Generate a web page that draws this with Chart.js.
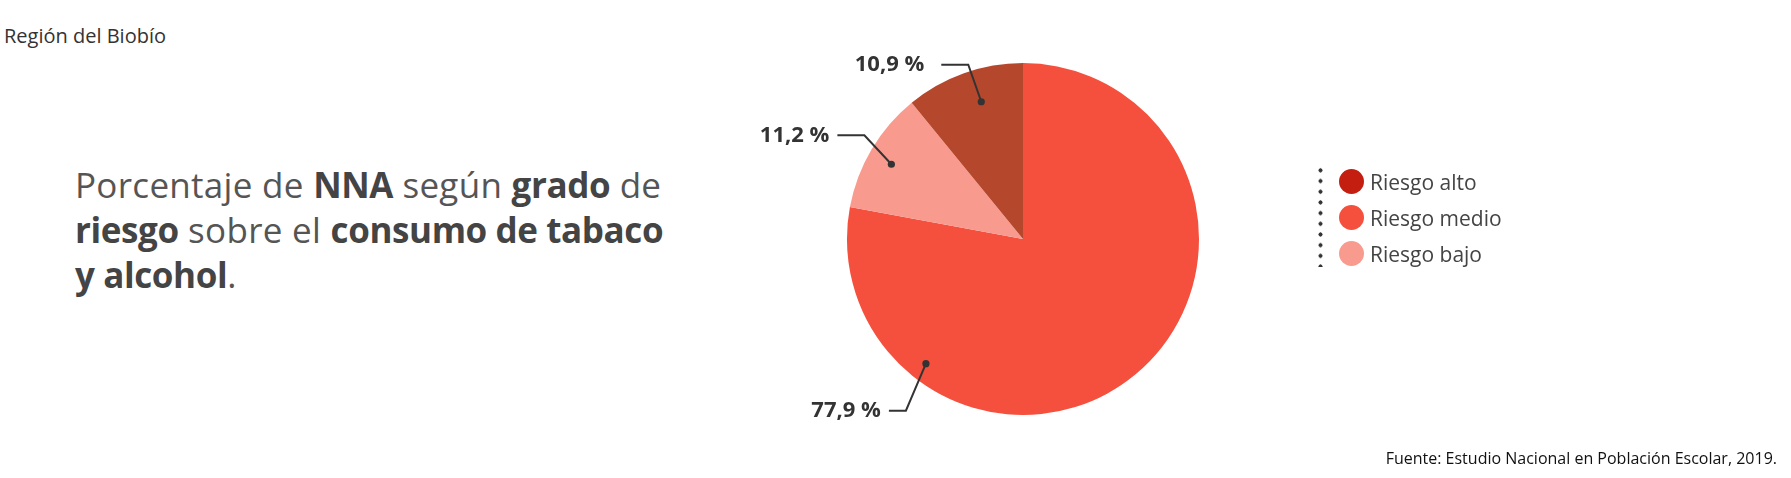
<!DOCTYPE html>
<html>
<head>
<meta charset="utf-8">
<script src="https://cdn.jsdelivr.net/npm/chart.js@4"></script>
<style>
  body { margin: 0; width: 1791px; height: 478px; background: #fff; font-family: "Open Sans", sans-serif; position: relative; overflow: hidden; }
  #region { position: absolute; left: 4px; top: 26px; font-size: 20px; line-height: 20px; color: #333; }
  #title { position: absolute; left: 75px; top: 162px; font-size: 35px; line-height: 45px; color: #555; letter-spacing: 0.3px; }
  #title b { color: #444; font-weight: 700; letter-spacing: -0.4px; }
  #source { position: absolute; right: 14px; top: 450px; font-size: 16px; line-height: 16px; color: #111; }
  #chartBox { position: absolute; left: 0; top: 0; width: 1791px; height: 478px; }
  #legend { position: absolute; left: 1318px; top: 165px; }
  #legend .dots { position: absolute; left: 0; top: 0; width: 5px; height: 102px;
    background-image: radial-gradient(circle, #333 1.8px, transparent 2.3px); background-size: 5px 10.7px; }
  #legend .item { position: absolute; left: 21px; height: 25px; display: flex; align-items: center; white-space: nowrap; font-size: 21px; color: #444; }
  #legend .sw { width: 25px; height: 25px; border-radius: 50%; margin-right: 6px; }
</style>
</head>
<body>
<div id="region">Región del Biobío</div>
<div id="title">Porcentaje de <b>NNA</b> según <b>grado</b> de<br><b>riesgo</b> sobre el <b>consumo de tabaco</b><br><b>y alcohol</b>.</div>
<div id="chartBox"><canvas id="pie"></canvas></div>
<div id="legend"><div class="dots"></div></div>
<div id="source">Fuente: Estudio Nacional en Población Escolar, 2019.</div>
<script>
// slices in drawing order (clockwise from 12 o'clock)
const labels = ['Riesgo medio', 'Riesgo bajo', 'Riesgo alto'];
const values = [77.9, 11.2, 10.9];
const sliceColors = ['#F5503E', '#F99A8F', '#B5472C'];

// legend order and colours as in the original
const legendLabels = ['Riesgo alto', 'Riesgo medio', 'Riesgo bajo'];
const legendColors = ['#C41E10', '#F5503E', '#F99A8F'];

// where each leader line sits: fraction along the arc, fraction of radius,
// elbow offset from the dot, horizontal run, gap before the text
const leaders = [
  { t: 0.777, rf: 0.898, ex: -20, ey: 47, run: 17, gap: 8 },
  { t: 0.475, rf: 0.86, ex: -27, ey: -29, run: 27, gap: 8 },
  { t: 0.569, rf: 0.815, ex: -13, ey: -37, run: 27, gap: 17 }
];

function fmt(v) {
  return v.toFixed(1).replace('.', ',') + ' %';
}

const leaderPlugin = {
  id: 'leaders',
  afterDatasetsDraw(chart) {
    const ctx = chart.ctx;
    const meta = chart.getDatasetMeta(0);
    ctx.save();
    meta.data.forEach((arc, i) => {
      const p = arc.getProps(['x', 'y', 'startAngle', 'endAngle', 'outerRadius'], true);
      const L = leaders[i];
      const a = p.startAngle + L.t * (p.endAngle - p.startAngle);
      const dx = p.x + Math.cos(a) * p.outerRadius * L.rf;
      const dy = p.y + Math.sin(a) * p.outerRadius * L.rf;
      const bx = dx + L.ex, by = dy + L.ey;
      ctx.strokeStyle = '#333';
      ctx.lineWidth = 2;
      ctx.beginPath();
      ctx.moveTo(dx, dy);
      ctx.lineTo(bx, by);
      ctx.lineTo(bx - L.run, by);
      ctx.stroke();
      ctx.fillStyle = '#333';
      ctx.beginPath();
      ctx.arc(dx, dy, 3.6, 0, Math.PI * 2);
      ctx.fill();
      ctx.font = 'bold 22px "Open Sans"';
      ctx.textAlign = 'right';
      ctx.textBaseline = 'middle';
      ctx.fillText(fmt(values[i]), bx - L.run - L.gap, by);
    });
    ctx.restore();
  }
};

new Chart(document.getElementById('pie'), {
  type: 'pie',
  data: {
    labels: labels,
    datasets: [{
      data: values,
      backgroundColor: sliceColors,
      borderWidth: 0
    }]
  },
  options: {
    responsive: true,
    maintainAspectRatio: false,
    animation: false,
    layout: { padding: { top: 63, bottom: 63, left: 847, right: 592 } },
    plugins: {
      legend: { display: false },
      tooltip: { enabled: false }
    }
  },
  plugins: [leaderPlugin]
});

// legend
const legendEl = document.getElementById('legend');
const itemTops = [4, 40, 76];
legendLabels.forEach((name, i) => {
  const item = document.createElement('div');
  item.className = 'item';
  item.style.top = itemTops[i] + 'px';
  item.innerHTML = '<span class="sw" style="background:' + legendColors[i] + '"></span>' + name;
  legendEl.appendChild(item);
});
</script>
</body>
</html>
